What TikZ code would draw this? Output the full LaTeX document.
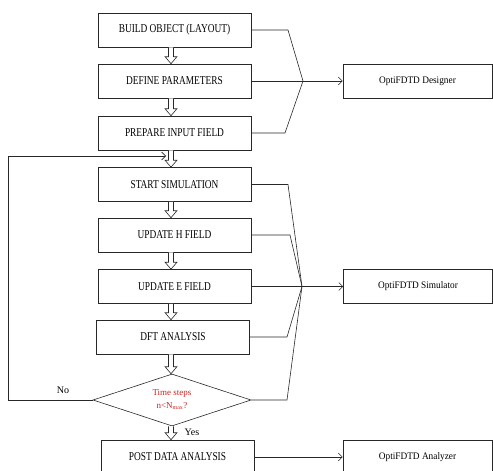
\documentclass[tikz,border=0pt]{standalone}
\usepackage{fontspec}
\setmainfont{Liberation Serif}
\usetikzlibrary{arrows.meta,calc,shapes.geometric}
\definecolor{linec}{RGB}{40,40,40}
\definecolor{redtext}{RGB}{205,35,35}
\newcommand{\bt}[1]{\scalebox{0.78}[1]{#1}}
\newcommand{\st}[1]{\scalebox{0.93}[1]{#1}}
\newcommand{\hollowarrow}[2]{%
  \draw[hollow] ($(#1)+(-2.5,0)$) -- ($(#2)+(-2.5,-7)$) -- ($(#2)+(-6,-7)$) -- (#2)
    -- ($(#2)+(6,-7)$) -- ($(#2)+(2.5,-7)$) -- ($(#1)+(2.5,0)$);}
\begin{document}
\begin{tikzpicture}[x=1pt,y=-1pt,
  mainbox/.style={draw=linec,line width=0.6pt,minimum width=153pt,minimum height=34pt,inner sep=0pt,font=\fontsize{12}{14}\selectfont},
  sidebox/.style={draw=linec,line width=0.6pt,minimum width=149pt,minimum height=34pt,inner sep=0pt,font=\fontsize{10}{12}\selectfont},
  hollow/.style={draw=linec,line width=0.6pt,fill=white},
  conn/.style={draw=linec,line width=0.6pt},
  arr/.style={conn,-{Straight Barb[length=4pt,width=8pt]}},
  lab/.style={inner sep=0pt,font=\fontsize{10}{12}\selectfont}]
\useasboundingbox (0,0) rectangle (493,471);
\begin{scope}
\clip (0,0) rectangle (493,471);
% main column
\node[mainbox] (b1) at (174.5,30) {\bt{BUILD OBJECT (LAYOUT)}};
\node[mainbox] (b2) at (174.5,81) {\bt{DEFINE PARAMETERS}};
\node[mainbox] (b3) at (174.5,133) {\bt{PREPARE INPUT FIELD}};
\node[mainbox] (b4) at (174.5,184.5) {\bt{START SIMULATION}};
\node[mainbox] (b5) at (174.5,235) {\bt{UPDATE H FIELD}};
\node[mainbox] (b6) at (174.5,286.5) {\bt{UPDATE E FIELD}};
\node[mainbox] (b7) at (173,337) {\bt{DFT ANALYSIS}};
\node[draw=linec,line width=0.6pt,diamond,shape aspect=3,minimum width=158pt,minimum height=52pt,inner sep=0pt,
      align=center,text=redtext,font=\fontsize{9}{13}\selectfont] (dia) at (172,400)
      {Time steps\\n<N\textsubscript{max}?};
\node[mainbox] (b8) at (177.5,457) {\bt{POST DATA ANALYSIS}};
% side boxes
\node[sidebox] (des) at (417.5,81) {\st{OptiFDTD Designer}};
\node[sidebox] (sim) at (418,286.5) {\st{OptiFDTD Simulator}};
\node[sidebox] (ana) at (417.5,457) {\st{OptiFDTD Analyzer}};
% hollow arrows
\coordinate (ax) at (171,0);
\hollowarrow{b1.south -| ax}{b2.north -| ax}
\hollowarrow{b2.south -| ax}{b3.north -| ax}
\hollowarrow{b3.south -| ax}{b4.north -| ax}
\hollowarrow{b4.south -| ax}{b5.north -| ax}
\hollowarrow{b5.south -| ax}{b6.north -| ax}
\hollowarrow{b6.south -| ax}{b7.north -| ax}
\hollowarrow{b7.south -| ax}{dia.north -| ax}
\hollowarrow{dia.south -| ax}{b8.north -| ax}
% feedback loop
\coordinate (fbl) at (8,156);
\coordinate (fbe) at (166,156);
\draw[arr] (dia.west) -| (fbl) -- (fbe);
\node[lab] (no) at (63,390) {No};
\node[lab] (yes) at (192,432) {Yes};
% designer bracket
\coordinate (dapex) at (303,81);
\coordinate (d1) at (288,30);
\coordinate (d3) at (285,133);
\draw[conn] (b1.east) -- (d1) -- (dapex);
\draw[conn] (b3.east) -- (d3) -- (dapex);
\draw[arr] (b2.east) -- (des.west);
% simulator bracket
\coordinate (sapex) at (302,286.5);
\coordinate (s4) at (288,184.5);
\coordinate (s5) at (290,235);
\coordinate (s7) at (287,337);
\coordinate (s9) at (287,400);
\draw[conn] (b4.east) -- (s4) -- (sapex);
\draw[conn] (b5.east) -- (s5) -- (sapex);
\draw[conn] (b7.east) -- (s7) -- (sapex);
\draw[conn] (dia.east) -- (s9) -- (sapex);
\draw[arr] (b6.east) -- (sim.west);
% analyzer
\draw[arr] (b8.east) -- (ana.west);
\end{scope}
\end{tikzpicture}
\end{document}
